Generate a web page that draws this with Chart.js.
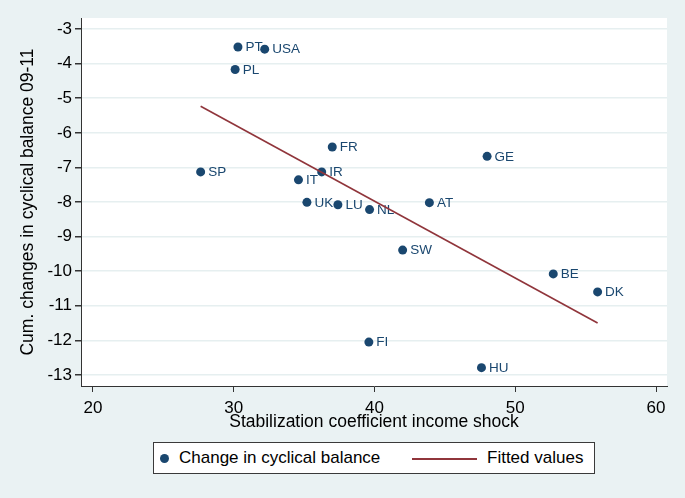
<!DOCTYPE html>
<html>
<head>
<meta charset="utf-8">
<script src="https://cdn.jsdelivr.net/npm/chart.js@4.4.1/dist/chart.umd.min.js"></script>
<style>
body{margin:0;background:#eaf2f3;}
#wrap{position:relative;width:685px;height:498px;}
#legend{position:absolute;left:153px;top:442px;width:442px;height:32px;box-sizing:border-box;background:#fff;border:1px solid #3a3a3a;font:17px "Liberation Sans",Arial,sans-serif;color:#000;}
#legend span{position:absolute;top:0;line-height:30px;white-space:nowrap;}
#legend .dot{position:absolute;left:6px;top:11px;width:9px;height:9px;border-radius:50%;background:#1a476f;}
#legend .ln{position:absolute;left:258px;top:15px;width:65px;height:2px;background:#90353b;}
</style>
</head>
<body>
<div id="wrap">
<canvas id="chart" width="685" height="498"></canvas>
<div id="legend">
<div class="dot"></div><span style="left:25px">Change in cyclical balance</span>
<div class="ln"></div><span style="left:333px">Fitted values</span>
</div>
</div>
<script>
const countries=["PT","USA","PL","SP","FR","IR","IT","UK","LU","NL","AT","GE","SW","BE","DK","FI","HU"]
const stabCoef=[30.3,32.2,30.1,27.65,37.0,36.25,34.6,35.2,37.4,39.65,43.9,48.0,42.0,52.7,55.85,39.6,47.6]
const cycBalance=[-3.52,-3.58,-4.17,-7.13,-6.41,-7.13,-7.36,-8.01,-8.08,-8.22,-8.02,-6.68,-9.39,-10.08,-10.6,-12.05,-12.79]

const fitX=[27.65,55.85]
const fitY=[-5.23,-11.5]

const xTicks=[20,30,40,50,60]
const yTicks=[-3,-4,-5,-6,-7,-8,-9,-10,-11,-12,-13]

const navy="#1a476f"
const maroon="#90353b"
const font="'Liberation Sans', Arial, sans-serif"

const plotBg={
id:"plotBg",
beforeDraw(chart){
const a=chart.chartArea
chart.ctx.save()
chart.ctx.fillStyle="#fff"
chart.ctx.fillRect(a.left,a.top,a.right-a.left,a.bottom-a.top)
chart.ctx.restore()
}
}

const pointLabels={
id:"pointLabels",
afterDatasetDraw(chart,args){
if(args.index!==0)return
const ctx=chart.ctx
ctx.save()
ctx.fillStyle=navy
ctx.font="13.5px "+font
ctx.textBaseline="middle"
args.meta.data.forEach((p,i)=>{
ctx.fillText(countries[i],p.x+7.5,p.y+0.5)
})
ctx.restore()
}
}

new Chart(document.getElementById("chart"),{
type:"scatter",
data:{
datasets:[
{
label:"Change in cyclical balance",
data:stabCoef.map((x,i)=>({x:x,y:cycBalance[i]})),
backgroundColor:navy,
borderWidth:0,
pointRadius:4.5,
order:1
},
{
label:"Fitted values",
data:fitX.map((x,i)=>({x:x,y:fitY[i]})),
showLine:true,
borderColor:maroon,
borderWidth:1.6,
pointRadius:0,
order:0
}
]
},
options:{
responsive:false,
animation:false,
layout:{padding:{left:0,top:18,right:18,bottom:65}},
plugins:{legend:{display:false},tooltip:{enabled:false}},
scales:{
x:{
min:19.15,
max:60.78,
afterBuildTicks(s){s.ticks=xTicks.map(v=>({value:v}))},
afterFit(s){s.height=47},
grid:{drawOnChartArea:false,tickLength:6,tickColor:"#333",lineWidth:1},
border:{color:"#333",width:1},
ticks:{color:"#000",font:{family:font,size:17},padding:6,maxRotation:0},
title:{display:true,text:"Stabilization coefficient income shock",color:"#000",font:{family:font,size:17.5},padding:{top:0,bottom:0}}
},
y:{
min:-13.32,
max:-2.68,
afterBuildTicks(s){s.ticks=yTicks.map(v=>({value:v}))},
afterFit(s){s.width=81},
grid:{color:"#e6eff0",lineWidth:1.5,tickLength:6,tickColor:"#333"},
border:{color:"#333",width:1},
ticks:{color:"#000",font:{family:font,size:17},padding:3},
title:{display:true,text:"Cum. changes in cyclical balance 09-11",color:"#000",font:{family:font,size:17.5},padding:{top:18,bottom:0}}
}
}
},
plugins:[plotBg,pointLabels]
})
</script>
</body>
</html>
